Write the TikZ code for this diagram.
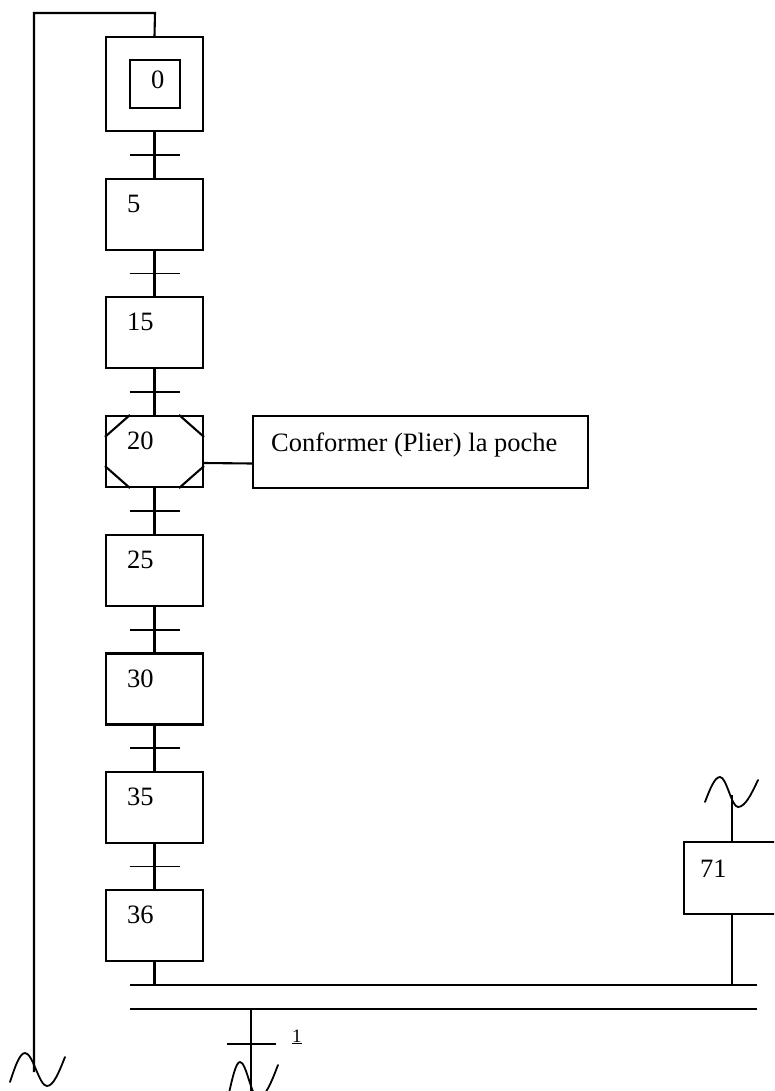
\documentclass[tikz,border=0pt]{standalone}
\usepackage{fontspec}
\setmainfont{Liberation Serif}
\usetikzlibrary{calc}
\begin{document}
\begin{tikzpicture}[x=1pt,y=-1pt,
  ln/.style={line width=2.1pt},
  stepbox/.style={draw,line width=2.1pt,minimum width=97pt,minimum height=71pt,inner sep=0pt},
  lbl/.style={anchor=base west,inner sep=0pt,font=\fontsize{26.5}{30}\selectfont},
  bar/.style={line width=1.8pt},
  wave/.style={line width=1.8pt,line cap=round}]
\useasboundingbox (0,0) rectangle (774,1091);
\clip (0,0) rectangle (774,1091);
% initial step
\node[stepbox,minimum height=94pt] (s0) at (154.5,84) {};
\node[draw,line width=2.1pt,minimum width=50pt,minimum height=48pt,inner sep=0pt] (s0i) at (155,84) {};
\node[lbl] (l0) at (151,89) {0};
% steps
\node[stepbox] (s5) at (154.5,214.5) {};
\node[stepbox] (s15) at (154.5,332.5) {};
\node[stepbox] (s20) at (154.5,451.5) {};
\node[stepbox] (s25) at (154.5,570.5) {};
\node[stepbox] (s30) at (154.5,689) {};
\node[stepbox] (s35) at (154.5,807.5) {};
\node[stepbox] (s36) at (154.5,925.5) {};
\foreach \s/\t in {s5/5,s15/15,s20/20,s25/25,s30/30,s35/35,s36/36}{
  \node[lbl] (l\s) at ($(\s.north west)+(22,35)$) {\t};
}
% corners of step 20
\draw[ln] ($(s20.north west)+(0,22)$) -- ($(s20.north west)+(25,0)$);
\draw[ln] ($(s20.north east)+(0,22)$) -- ($(s20.north east)+(-25,0)$);
\draw[ln] ($(s20.south west)+(0,-22)$) -- ($(s20.south west)+(25,0)$);
\draw[ln] ($(s20.south east)+(0,-22)$) -- ($(s20.south east)+(-25,0)$);
% action
\node[draw,line width=2.1pt,minimum width=335pt,minimum height=72pt,inner sep=0pt] (act) at (420.5,452) {};
\node[lbl] (actt) at (271,451) {Conformer (Plier) la poche};
\draw[ln] ([yshift=-11.5pt]s20.east) -- ([yshift=-11.5pt]act.west);
% links and transitions
\foreach \a/\b in {s0/s5,s5/s15,s15/s20,s20/s25,s25/s30,s30/s35,s35/s36}{
  \draw[ln] (\a.south) -- (\b.north);
  \draw[bar] ($(\a.south)!0.5!(\b.north)+(-25,0)$) -- ($(\a.south)!0.5!(\b.north)+(25,0)$);
}
% loop back
\coordinate (tl) at (34,13);
\coordinate (tr) at (155,13);
\coordinate (lb) at (35,1072);
\draw[ln] (s0.north) -- (tr) -- (tl) -- (tl |- lb);
\draw[wave] (10,1082) sin (25,1053) cos (36,1069.5) sin (47,1086) cos (65,1057);
% step 71
\node[draw,line width=2.1pt,minimum width=140pt,minimum height=72pt,inner sep=0pt,anchor=north west] (s71) at (683,841) {};
\node[lbl] (l71) at (700,877) {71};
\coordinate (t71) at (732,795);
\draw[ln] (s71.north west -| t71) -- (t71);
\draw[wave] (705,802) sin (720,777) cos (729,792) sin (738,807) cos (758,780);
% double synchronisation line
\coordinate (d1l) at (130,985);
\coordinate (d1r) at (757,985);
\coordinate (d2l) at (130,1009);
\coordinate (d2r) at (757,1009);
\draw[ln] (d1l) -- (d1r);
\draw[ln] (d2l) -- (d2r);
\draw[ln] (s36.south) -- (s36.south |- d1l);
\draw[ln] (s71.south west -| t71) -- (t71 |- d1l);
% final transition
\coordinate (ft) at (251,1009);
\coordinate (fb) at (251,1095);
\draw[ln] (ft) -- (fb);
\draw[bar] (227,1044) -- (276,1044);
\node[anchor=base west,inner sep=0pt,font=\fontsize{19}{22}\selectfont] (l1) at (292,1042) {\underline{1}};
\draw[wave] (229,1093) sin (240,1062) cos (249,1080) sin (258,1098) cos (278,1065);
\end{tikzpicture}
\end{document}
